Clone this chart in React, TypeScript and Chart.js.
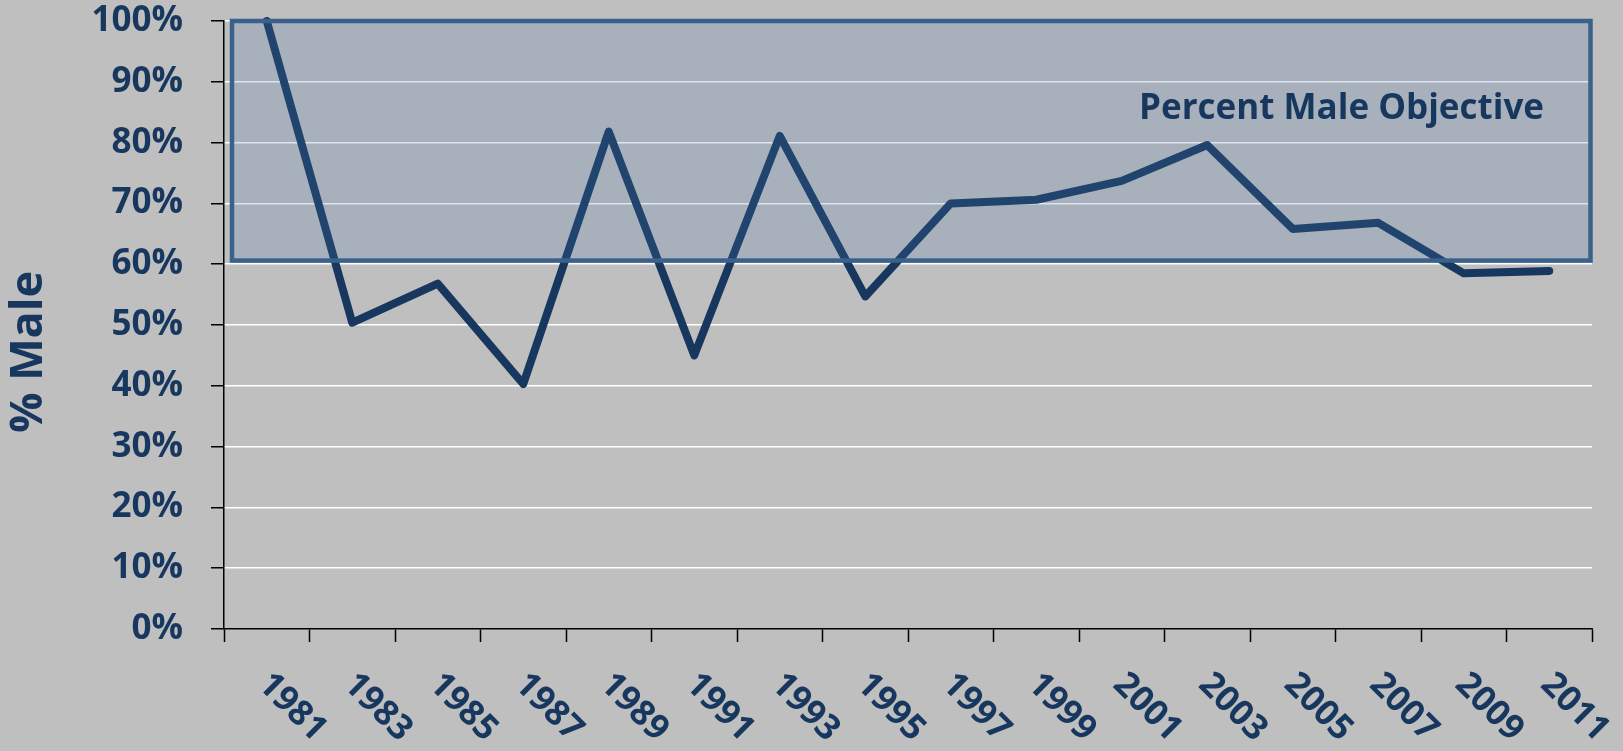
import React, { useEffect, useRef } from "react";
import { Chart, registerables } from "chart.js";

Chart.register(...registerables);

const years = ["1981", "1983", "1985", "1987", "1989", "1991", "1993", "1995", "1997", "1999", "2001", "2003", "2005", "2007", "2009", "2011"];
const pctMale = [100, 50.4, 56.8, 40.3, 81.8, 45.0, 81.1, 54.7, 70.0, 70.6, 73.7, 79.6, 65.8, 66.8, 58.5, 58.9];
const objectiveLow = 60.6;
const objectiveHigh = 100;
const objectiveLabel = "Percent Male Objective";
const objectiveLabelValue = 83.8;
const yTitle = "% Male";

const TEXT = "#17375E";
const FONT = "'Open Sans', 'DejaVu Sans', sans-serif";

const customPlugin = {
  id: "custom",
  beforeDraw(chart: any) {
    const { ctx, width, height } = chart;
    ctx.save();
    ctx.fillStyle = "#BFBFBF";
    ctx.fillRect(0, 0, width, height);
    ctx.restore();
  },
  afterDatasetsDraw(chart: any) {
    const { ctx, chartArea, scales } = chart;
    const y = scales.y;
    const top = y.getPixelForValue(objectiveHigh);
    const bottom = y.getPixelForValue(objectiveLow);
    const left = chartArea.left + 8;
    const right = chartArea.right - 1.5;
    ctx.save();
    ctx.fillStyle = "rgba(76,121,176,0.2)";
    ctx.fillRect(left, top, right - left, bottom - top);
    ctx.strokeStyle = "#3A608C";
    ctx.lineWidth = 4.5;
    ctx.strokeRect(left, top, right - left, bottom - top);
    ctx.fillStyle = TEXT;
    ctx.font = `bold 35px ${FONT}`;
    ctx.textAlign = "right";
    ctx.textBaseline = "alphabetic";
    ctx.fillText(objectiveLabel, chartArea.right - 48, y.getPixelForValue(objectiveLabelValue));
    ctx.restore();
  },
  afterDraw(chart: any) {
    const { ctx, chartArea, scales } = chart;
    const x = scales.x;
    ctx.save();
    ctx.fillStyle = TEXT;
    ctx.font = `bold 35px ${FONT}`;
    ctx.textAlign = "left";
    ctx.textBaseline = "middle";
    years.forEach((lab, i) => {
      const px = x.getPixelForTick(i);
      ctx.save();
      ctx.translate(px - 3, x.top + 50);
      ctx.rotate(Math.PI / 4);
      ctx.fillText(lab, 0, 0);
      ctx.restore();
    });
    // y-axis title
    ctx.font = `bold 45px ${FONT}`;
    ctx.textAlign = "center";
    ctx.textBaseline = "middle";
    ctx.save();
    ctx.translate(29, (chartArea.top + chartArea.bottom) / 2 + 27);
    ctx.rotate(-Math.PI / 2);
    ctx.fillText(yTitle, 0, 0);
    ctx.restore();
    ctx.restore();
  },
};

export default function App() {
  const ref = useRef<HTMLCanvasElement>(null);
  useEffect(() => {
    document.body.style.margin = "0";
    document.body.style.background = "#BFBFBF";
    const chart = new Chart(ref.current as HTMLCanvasElement, {
      type: "line",
      data: {
        labels: years,
        datasets: [
          {
            data: pctMale,
            borderColor: "#17375E",
            borderWidth: 8,
            pointRadius: 0,
            tension: 0,
            borderCapStyle: "round",
            borderJoinStyle: "round",
            fill: false,
            clip: false as any,
          },
        ],
      },
      options: {
        animation: false,
        responsive: true,
        maintainAspectRatio: false,
        layout: { padding: { left: 0, top: 21, right: 31, bottom: 0 } },
        plugins: { legend: { display: false }, tooltip: { enabled: false } },
        scales: {
          x: {
            type: "category",
            offset: true,
            grid: {
              drawOnChartArea: false,
              offset: true,
              tickColor: "#000",
              tickLength: 13,
              tickWidth: 1.5,
            },
            border: { color: "#000", width: 1.5 },
            ticks: { display: false },
            afterFit: (s: any) => {
              s.height = 122;
            },
          },
          y: {
            min: 0,
            max: 100,
            ticks: {
              stepSize: 10,
              callback: (v: any) => v + "%",
              color: TEXT,
              font: { family: FONT, size: 35, weight: "bold" },
              padding: 28,
            },
            grid: {
              color: (c: any) => (c.tick && c.tick.value === 0 ? "rgba(0,0,0,0)" : "#FFFFFF"),
              lineWidth: 1.5,
              tickColor: "#000",
              tickLength: 13,
              tickWidth: 1.5,
            },
            border: { color: "#000", width: 1.5 },
            afterFit: (s: any) => {
              s.width = 224;
              s.paddingTop = 0;
              s.paddingBottom = 0;
            },
          },
        },
      },
      plugins: [customPlugin],
    });
    return () => chart.destroy();
  }, []);
  return (
    <div style={{ width: 1623, height: 751, position: "relative" }}>
      <canvas ref={ref} />
    </div>
  );
}
